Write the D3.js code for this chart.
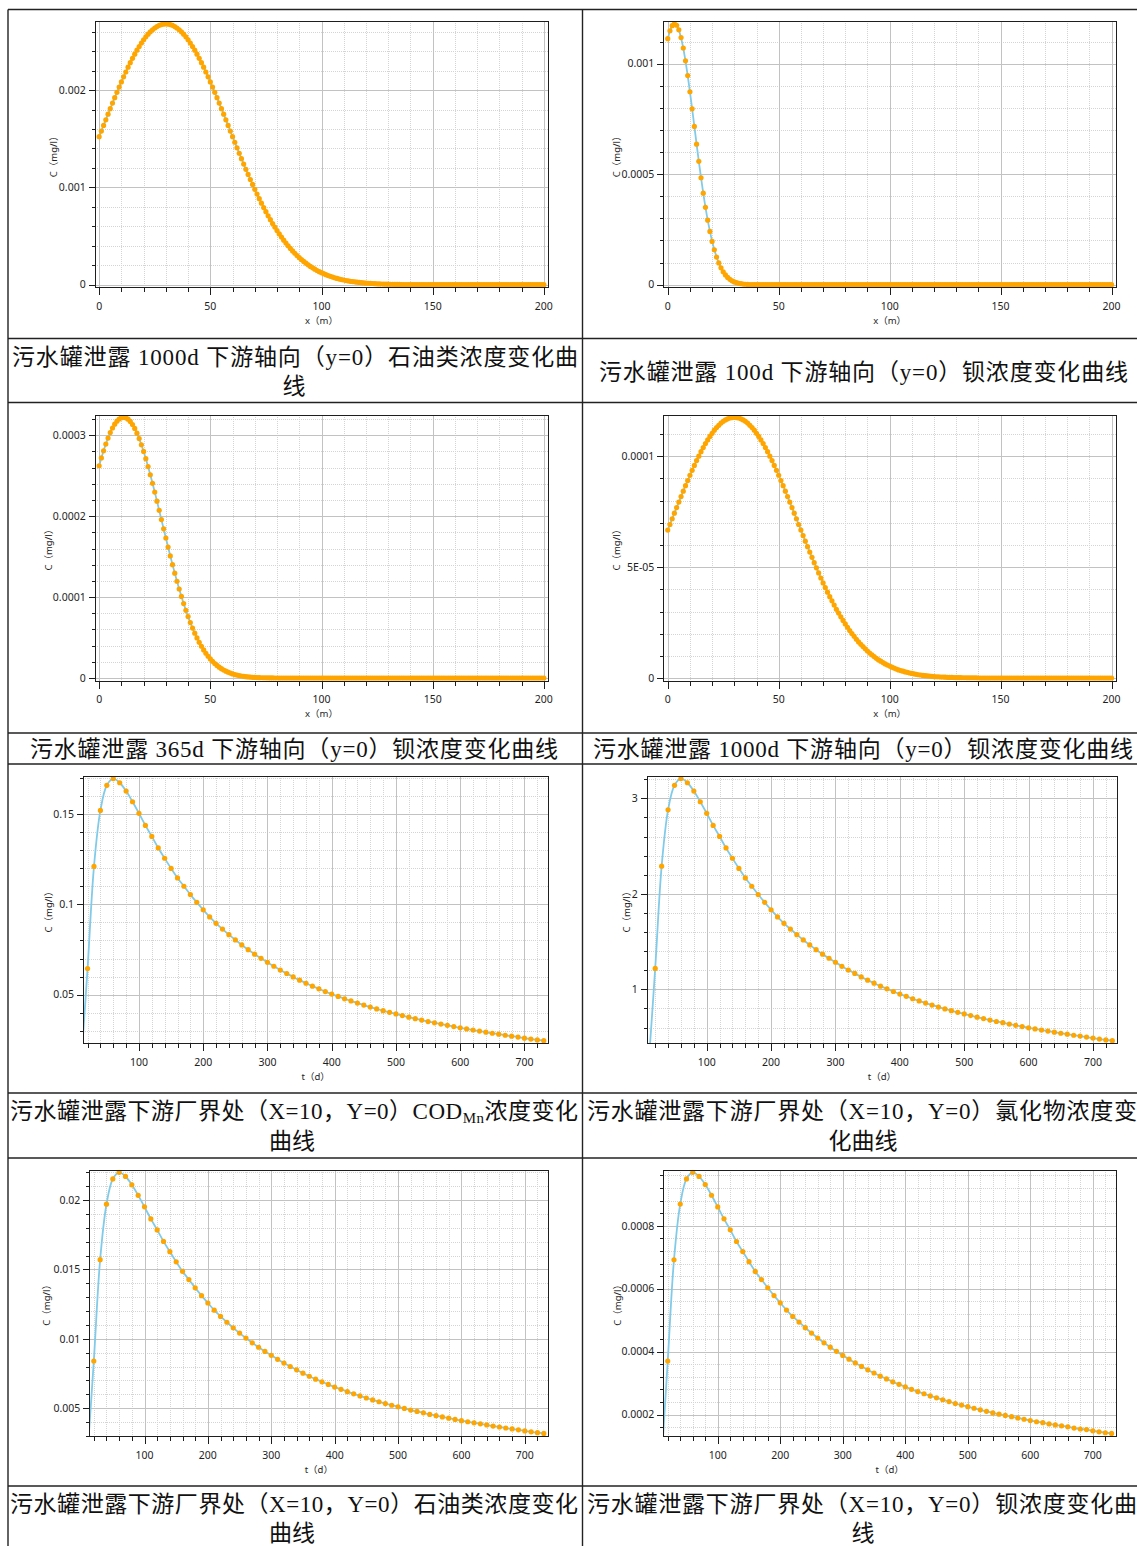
<!DOCTYPE html>
<html>
<head>
<meta charset="utf-8">
<script src="https://cdn.jsdelivr.net/npm/d3@7"></script>
<style>
  html, body { margin: 0; padding: 0; background: #fff; }
  svg { display: block; }
  .tick-label { font-family: "Noto Sans", "DejaVu Sans", sans-serif; font-size: 10.5px; fill: #1e1e1e; }
  .axis-title { font-family: "Noto Sans", "Noto Sans CJK SC", sans-serif; font-size: 9.5px; fill: #1e1e1e; }
  .caption { font-family: "Liberation Serif", "Noto Sans CJK SC", serif; font-size: 23px; fill: #111; }
</style>
</head>
<body>
<svg id="sheet" width="1137" height="1546"></svg>
<script>
// --- distance along flow axis (m), shared by the four profile charts ---
const xMeters = [
  0,1,2,3,4,5,6,7,8,9,10,11,12,13,14,15,16,17,18,19,
  20,21,22,23,24,25,26,27,28,29,30,31,32,33,34,35,36,37,38,39,
  40,41,42,43,44,45,46,47,48,49,50,51,52,53,54,55,56,57,58,59,
  60,61,62,63,64,65,66,67,68,69,70,71,72,73,74,75,76,77,78,79,
  80,81,82,83,84,85,86,87,88,89,90,91,92,93,94,95,96,97,98,99,
  100,101,102,103,104,105,106,107,108,109,110,111,112,113,114,115,116,117,118,119,
  120,121,122,123,124,125,126,127,128,129,130,131,132,133,134,135,136,137,138,139,
  140,141,142,143,144,145,146,147,148,149,150,151,152,153,154,155,156,157,158,159,
  160,161,162,163,164,165,166,167,168,169,170,171,172,173,174,175,176,177,178,179,
  180,181,182,183,184,185,186,187,188,189,190,191,192,193,194,195,196,197,198,199,
  200
];

// 1000d petroleum along x (mg/l)
const petroleum1000d = [
  1.521e-3,1.579e-3,1.637e-3,1.694e-3,1.752e-3,1.809e-3,1.866e-3,1.922e-3,1.977e-3,2.031e-3,
  2.084e-3,2.136e-3,2.186e-3,2.235e-3,2.282e-3,2.326e-3,2.369e-3,2.410e-3,2.448e-3,2.484e-3,
  2.517e-3,2.547e-3,2.574e-3,2.599e-3,2.620e-3,2.638e-3,2.653e-3,2.665e-3,2.673e-3,2.678e-3,
  2.680e-3,2.678e-3,2.673e-3,2.665e-3,2.653e-3,2.638e-3,2.620e-3,2.599e-3,2.574e-3,2.547e-3,
  2.517e-3,2.484e-3,2.448e-3,2.410e-3,2.369e-3,2.326e-3,2.282e-3,2.235e-3,2.186e-3,2.136e-3,
  2.084e-3,2.031e-3,1.977e-3,1.922e-3,1.866e-3,1.809e-3,1.752e-3,1.694e-3,1.637e-3,1.579e-3,
  1.521e-3,1.464e-3,1.407e-3,1.351e-3,1.295e-3,1.240e-3,1.186e-3,1.133e-3,1.081e-3,1.030e-3,
  9.80e-4,9.31e-4,8.84e-4,8.38e-4,7.93e-4,7.50e-4,7.08e-4,6.68e-4,6.29e-4,5.92e-4,
  5.56e-4,5.22e-4,4.89e-4,4.58e-4,4.28e-4,4.00e-4,3.73e-4,3.47e-4,3.23e-4,3.00e-4,
  2.78e-4,2.58e-4,2.39e-4,2.21e-4,2.04e-4,1.88e-4,1.73e-4,1.59e-4,1.46e-4,1.34e-4,
  1.23e-4,1.13e-4,1.03e-4,9.4e-5,8.6e-5,7.8e-5,7.1e-5,6.4e-5,5.8e-5,5.3e-5,
  4.8e-5,4.3e-5,3.9e-5,3.5e-5,3.2e-5,2.9e-5,2.6e-5,2.3e-5,2.1e-5,1.8e-5,
  1.6e-5,1.5e-5,1.3e-5,1.2e-5,1.0e-5,9e-6,8e-6,7e-6,6e-6,5.5e-6,
  5e-6,4e-6,4e-6,3e-6,3e-6,3e-6,2e-6,2e-6,2e-6,2e-6,
  1e-6,0,0,0,0,0,0,0,0,0,
  0,0,0,0,0,0,0,0,0,0,
  0,0,0,0,0,0,0,0,0,0,
  0,0,0,0,0,0,0,0,0,0,
  0,0,0,0,0,0,0,0,0,0,
  0,0,0,0,0,0,0,0,0,0,
  0
];

// 100d barium along x (mg/l)
const barium100d = [
  1.113e-3,1.149e-3,1.172e-3,1.180e-3,1.174e-3,1.153e-3,1.118e-3,1.071e-3,1.013e-3,9.46e-4,
  8.73e-4,7.96e-4,7.16e-4,6.36e-4,5.58e-4,4.84e-4,4.14e-4,3.50e-4,2.92e-4,2.41e-4,
  1.96e-4,1.58e-4,1.25e-4,9.83e-5,7.61e-5,5.82e-5,4.40e-5,3.28e-5,2.42e-5,1.76e-5,
  1.26e-5,9.0e-6,6.3e-6,4.4e-6,3.0e-6,2.0e-6,1.3e-6,9e-7,6e-7,4e-7,
  2e-7,1.5e-7,1e-7,0,0,0,0,0,0,0,
  0,0,0,0,0,0,0,0,0,0,
  0,0,0,0,0,0,0,0,0,0,
  0,0,0,0,0,0,0,0,0,0,
  0,0,0,0,0,0,0,0,0,0,
  0,0,0,0,0,0,0,0,0,0,
  0,0,0,0,0,0,0,0,0,0,
  0,0,0,0,0,0,0,0,0,0,
  0,0,0,0,0,0,0,0,0,0,
  0,0,0,0,0,0,0,0,0,0,
  0,0,0,0,0,0,0,0,0,0,
  0,0,0,0,0,0,0,0,0,0,
  0,0,0,0,0,0,0,0,0,0,
  0,0,0,0,0,0,0,0,0,0,
  0,0,0,0,0,0,0,0,0,0,
  0,0,0,0,0,0,0,0,0,0,
  0
];

// 365d barium along x (mg/l)
const barium365d = [
  2.622e-4,2.718e-4,2.807e-4,2.890e-4,2.964e-4,3.031e-4,3.088e-4,3.135e-4,3.172e-4,3.199e-4,
  3.215e-4,3.220e-4,3.214e-4,3.197e-4,3.169e-4,3.131e-4,3.083e-4,3.024e-4,2.957e-4,2.881e-4,
  2.799e-4,2.709e-4,2.612e-4,2.511e-4,2.406e-4,2.297e-4,2.185e-4,2.071e-4,1.957e-4,1.843e-4,
  1.730e-4,1.618e-4,1.508e-4,1.401e-4,1.296e-4,1.196e-4,1.100e-4,1.008e-4,9.20e-5,8.37e-5,
  7.59e-5,6.86e-5,6.18e-5,5.55e-5,4.96e-5,4.42e-5,3.93e-5,3.48e-5,3.07e-5,2.70e-5,
  2.37e-5,2.07e-5,1.80e-5,1.56e-5,1.35e-5,1.16e-5,1.00e-5,8.5e-6,7.3e-6,6.2e-6,
  5.2e-6,4.4e-6,3.7e-6,3.1e-6,2.6e-6,2.2e-6,1.8e-6,1.5e-6,1.2e-6,1.0e-6,
  8e-7,6.5e-7,5e-7,4e-7,3.5e-7,3e-7,2e-7,2e-7,1.5e-7,1e-7,
  1e-7,5e-8,5e-8,5e-8,5e-8,0,0,0,0,0,
  0,0,0,0,0,0,0,0,0,0,
  0,0,0,0,0,0,0,0,0,0,
  0,0,0,0,0,0,0,0,0,0,
  0,0,0,0,0,0,0,0,0,0,
  0,0,0,0,0,0,0,0,0,0,
  0,0,0,0,0,0,0,0,0,0,
  0,0,0,0,0,0,0,0,0,0,
  0,0,0,0,0,0,0,0,0,0,
  0,0,0,0,0,0,0,0,0,0,
  0,0,0,0,0,0,0,0,0,0,
  0,0,0,0,0,0,0,0,0,0,
  0
];

// 1000d barium along x (mg/l)
const barium1000d = [
  6.67e-5,6.92e-5,7.18e-5,7.43e-5,7.68e-5,7.93e-5,8.18e-5,8.42e-5,8.67e-5,8.90e-5,
  9.14e-5,9.36e-5,9.58e-5,9.80e-5,1.000e-4,1.020e-4,1.039e-4,1.057e-4,1.073e-4,1.089e-4,
  1.103e-4,1.117e-4,1.129e-4,1.139e-4,1.149e-4,1.157e-4,1.163e-4,1.168e-4,1.172e-4,1.174e-4,
  1.175e-4,1.174e-4,1.172e-4,1.168e-4,1.163e-4,1.157e-4,1.149e-4,1.139e-4,1.129e-4,1.117e-4,
  1.103e-4,1.089e-4,1.073e-4,1.057e-4,1.039e-4,1.020e-4,1.000e-4,9.80e-5,9.58e-5,9.36e-5,
  9.14e-5,8.90e-5,8.67e-5,8.42e-5,8.18e-5,7.93e-5,7.68e-5,7.43e-5,7.18e-5,6.92e-5,
  6.67e-5,6.42e-5,6.17e-5,5.92e-5,5.68e-5,5.44e-5,5.20e-5,4.97e-5,4.74e-5,4.51e-5,
  4.29e-5,4.08e-5,3.87e-5,3.67e-5,3.48e-5,3.29e-5,3.10e-5,2.93e-5,2.76e-5,2.60e-5,
  2.44e-5,2.29e-5,2.14e-5,2.01e-5,1.88e-5,1.75e-5,1.63e-5,1.52e-5,1.42e-5,1.32e-5,
  1.22e-5,1.13e-5,1.05e-5,9.7e-6,8.9e-6,8.2e-6,7.6e-6,7.0e-6,6.4e-6,5.9e-6,
  5.4e-6,4.9e-6,4.5e-6,4.1e-6,3.7e-6,3.4e-6,3.1e-6,2.8e-6,2.6e-6,2.3e-6,
  2.1e-6,1.9e-6,1.7e-6,1.5e-6,1.4e-6,1.2e-6,1.1e-6,1.0e-6,9e-7,8e-7,
  7e-7,6e-7,6e-7,5e-7,5e-7,4e-7,3.5e-7,3e-7,3e-7,2.5e-7,
  2e-7,2e-7,2e-7,1.5e-7,1.5e-7,1e-7,1e-7,1e-7,1e-7,1e-7,
  5e-8,0,0,0,0,0,0,0,0,0,
  0,0,0,0,0,0,0,0,0,0,
  0,0,0,0,0,0,0,0,0,0,
  0,0,0,0,0,0,0,0,0,0,
  0,0,0,0,0,0,0,0,0,0,
  0,0,0,0,0,0,0,0,0,0,
  0
];

// --- time (d) at the plant boundary (X=10, Y=0), shared by the four breakthrough charts ---
const tDays = [
  10,20,30,40,50,60,70,80,90,100,110,120,130,140,150,160,170,180,190,200,
  210,220,230,240,250,260,270,280,290,300,310,320,330,340,350,360,370,380,390,400,
  410,420,430,440,450,460,470,480,490,500,510,520,530,540,550,560,570,580,590,600,
  610,620,630,640,650,660,670,680,690,700,710,720,730
];

const codMnT = [
  0.012,0.0644,0.121,0.152,0.1659,0.1696,0.1673,0.1627,0.1568,0.1504,
  0.1437,0.1376,0.1312,0.1255,0.1199,0.1146,0.1100,0.1054,0.1011,0.0970,
  0.0930,0.0895,0.0863,0.0832,0.0803,0.0775,0.0749,0.0724,0.0701,0.0679,
  0.0657,0.0636,0.0617,0.0598,0.0580,0.0563,0.0547,0.0532,0.0517,0.0503,
  0.0490,0.0477,0.0465,0.0453,0.0442,0.0431,0.0421,0.0411,0.0402,0.0393,
  0.0384,0.0375,0.0367,0.0359,0.0351,0.0344,0.0337,0.0330,0.0323,0.0316,
  0.0310,0.0304,0.0298,0.0292,0.0286,0.0281,0.0275,0.0270,0.0265,0.0259,
  0.0254,0.0249,0.0245
];

const chlorideT = [
  0.23,1.22,2.29,2.88,3.137,3.207,3.164,3.077,2.965,2.844,
  2.717,2.602,2.481,2.373,2.267,2.167,2.080,1.993,1.912,1.834,
  1.759,1.692,1.632,1.573,1.518,1.466,1.416,1.369,1.326,1.284,
  1.242,1.203,1.167,1.131,1.097,1.065,1.034,1.006,0.978,0.951,
  0.927,0.902,0.879,0.857,0.836,0.815,0.796,0.777,0.760,0.743,
  0.726,0.709,0.694,0.679,0.664,0.651,0.637,0.624,0.611,0.598,
  0.586,0.575,0.564,0.552,0.541,0.531,0.520,0.511,0.501,0.490,
  0.480,0.471,0.463
];

const petroleumT = [
  0.0016,0.0084,0.0157,0.0197,0.02152,0.0220,0.02170,0.02110,0.02034,0.01951,
  0.01864,0.01785,0.01702,0.01628,0.01555,0.01486,0.01427,0.01367,0.01311,0.01258,
  0.01206,0.01161,0.01119,0.01079,0.01041,0.01005,0.00971,0.00939,0.00909,0.00881,
  0.00852,0.00825,0.00800,0.00776,0.00752,0.00730,0.00709,0.00690,0.00671,0.00652,
  0.00636,0.00619,0.00603,0.00588,0.00573,0.00559,0.00546,0.00533,0.00521,0.00510,
  0.00498,0.00486,0.00476,0.00466,0.00455,0.00446,0.00437,0.00428,0.00419,0.00410,
  0.00402,0.00394,0.00387,0.00379,0.00371,0.00364,0.00357,0.00350,0.00344,0.00336,
  0.00329,0.00323,0.00318
];

const bariumT = [
  0.00005,0.000370,0.000692,0.000869,0.000949,0.000970,0.000957,0.000931,0.000897,0.000860,
  0.000822,0.000787,0.000750,0.000718,0.000686,0.000655,0.000629,0.000603,0.000578,0.000555,
  0.000532,0.000512,0.000494,0.000476,0.000459,0.000443,0.000428,0.000414,0.000401,0.000388,
  0.000376,0.000364,0.000353,0.000342,0.000332,0.000322,0.000313,0.000304,0.000296,0.000288,
  0.000280,0.000273,0.000266,0.000259,0.000253,0.000247,0.000241,0.000235,0.000230,0.000225,
  0.000220,0.000215,0.000210,0.000205,0.000201,0.000197,0.000193,0.000189,0.000185,0.000181,
  0.000177,0.000174,0.000170,0.000167,0.000164,0.000161,0.000157,0.000154,0.000152,0.000148,
  0.000145,0.000142,0.000140
];

// --- tick values and their labels ---
const xTicksMeters = [0, 50, 100, 150, 200];
const xTicksDays = [100, 200, 300, 400, 500, 600, 700];
const yTicks1 = [0, 0.001, 0.002],           yLabels1 = ['0', '0.001', '0.002'];
const yTicks2 = [0, 0.0005, 0.001],          yLabels2 = ['0', '0.0005', '0.001'];
const yTicks3 = [0, 0.0001, 0.0002, 0.0003], yLabels3 = ['0', '0.0001', '0.0002', '0.0003'];
const yTicks4 = [0, 0.00005, 0.0001],        yLabels4 = ['0', '5E-05', '0.0001'];
const yTicks5 = [0.05, 0.1, 0.15],           yLabels5 = ['0.05', '0.1', '0.15'];
const yTicks6 = [1, 2, 3],                   yLabels6 = ['1', '2', '3'];
const yTicks7 = [0.005, 0.01, 0.015, 0.02],  yLabels7 = ['0.005', '0.01', '0.015', '0.02'];
const yTicks8 = [0.0002, 0.0004, 0.0006, 0.0008], yLabels8 = ['0.0002', '0.0004', '0.0006', '0.0008'];

const yTitle = 'C（mg/l）';
const xTitleMeters = 'x（m）';
const xTitleDays = 't（d）';

// --- captions (one entry per text line; sub marks the subscript run) ---
const captions = [
  { parts: [{ t: '污水罐泄露 1000d 下游轴向（y=0）石油类浓度变化曲' }], x0: 12, x1: 578, y: 357 },
  { parts: [{ t: '线' }], cx: 294, y: 386 },
  { parts: [{ t: '污水罐泄露 100d 下游轴向（y=0）钡浓度变化曲线' }], x0: 599, x1: 1128, y: 372 },
  { parts: [{ t: '污水罐泄露 365d 下游轴向（y=0）钡浓度变化曲线' }], x0: 30, x1: 558, y: 749 },
  { parts: [{ t: '污水罐泄露 1000d 下游轴向（y=0）钡浓度变化曲线' }], x0: 593, x1: 1133, y: 749 },
  { parts: [{ t: '污水罐泄露下游厂界处（X=10，Y=0）COD' }, { t: 'Mn', sub: true }, { t: '浓度变化' }], x0: 10, x1: 578, y: 1111 },
  { parts: [{ t: '曲线' }], cx: 292, y: 1141 },
  { parts: [{ t: '污水罐泄露下游厂界处（X=10，Y=0）氯化物浓度变' }], x0: 587, x1: 1137, y: 1111 },
  { parts: [{ t: '化曲线' }], cx: 863, y: 1141 },
  { parts: [{ t: '污水罐泄露下游厂界处（X=10，Y=0）石油类浓度变化' }], x0: 10, x1: 578, y: 1504 },
  { parts: [{ t: '曲线' }], cx: 292, y: 1533 },
  { parts: [{ t: '污水罐泄露下游厂界处（X=10，Y=0）钡浓度变化曲' }], x0: 587, x1: 1137, y: 1504 },
  { parts: [{ t: '线' }], cx: 863, y: 1533 }
];

// table grid lines
const tableRows = [9.5, 338.5, 402.5, 733, 764, 1093, 1158, 1486];
const tableCols = [8, 582.5];

// --- chart layout (plot box = left, top, right, bottom) ---
const charts = [
  { box: [94.7, 21.3, 548.3, 287.3], titleX: 53.3, lineX: xMeters, lineY: petroleum1000d, dotX: xMeters, dotY: petroleum1000d,
    xTicks: xTicksMeters, xMinorStep: 10, yTicks: yTicks1, yLabels: yLabels1, yMinorStep: 0.0002, xTitle: xTitleMeters },
  { box: [663.3, 21.3, 1116, 287.3], titleX: 617, lineX: xMeters, lineY: barium100d, dotX: xMeters, dotY: barium100d,
    xTicks: xTicksMeters, xMinorStep: 10, yTicks: yTicks2, yLabels: yLabels2, yMinorStep: 0.0001, xTitle: xTitleMeters },
  { box: [94.7, 414.7, 548.3, 680.7], titleX: 48.3, lineX: xMeters, lineY: barium365d, dotX: xMeters, dotY: barium365d,
    xTicks: xTicksMeters, xMinorStep: 10, yTicks: yTicks3, yLabels: yLabels3, yMinorStep: 0.00002, xTitle: xTitleMeters },
  { box: [663.3, 414.7, 1116, 680.7], titleX: 616.7, lineX: xMeters, lineY: barium1000d, dotX: xMeters, dotY: barium1000d,
    xTicks: xTicksMeters, xMinorStep: 10, yTicks: yTicks4, yLabels: yLabels4, yMinorStep: 0.00001, xTitle: xTitleMeters },
  { box: [83, 776, 548.3, 1043.3], titleX: 48.3, lineX: tDays, lineY: codMnT, dotX: tDays.slice(1), dotY: codMnT.slice(1), smooth: true,
    xTicks: xTicksDays, xMinorStep: 20, yTicks: yTicks5, yLabels: yLabels5, yMinorStep: 0.01, xTitle: xTitleDays },
  { box: [646.7, 776, 1117, 1043.3], titleX: 626.7, lineX: tDays, lineY: chlorideT, dotX: tDays.slice(1), dotY: chlorideT.slice(1), smooth: true,
    xDomain: [6.8, 737.3],
    xTicks: xTicksDays, xMinorStep: 20, yTicks: yTicks6, yLabels: yLabels6, yMinorStep: 0.2, xTitle: xTitleDays },
  { box: [89.3, 1169.7, 548.3, 1436], titleX: 46.7, lineX: tDays, lineY: petroleumT, dotX: tDays.slice(1), dotY: petroleumT.slice(1), smooth: true,
    xTicks: xTicksDays, xMinorStep: 20, yTicks: yTicks7, yLabels: yLabels7, yMinorStep: 0.001, xTitle: xTitleDays },
  { box: [663.3, 1169.7, 1116, 1436], titleX: 617.3, lineX: tDays, lineY: bariumT, dotX: tDays.slice(1), dotY: bariumT.slice(1), smooth: true,
    xTicks: xTicksDays, xMinorStep: 20, yTicks: yTicks8, yLabels: yLabels8, yMinorStep: 0.00004, xTitle: xTitleDays }
];

const svg = d3.select('#sheet');
svg.append('rect').attr('width', 1137).attr('height', 1546).attr('fill', '#fff');
const defs = svg.append('defs');

// multiples of step that fall inside the domain
function multiplesIn(dom, step) {
  const out = [];
  const k0 = Math.ceil(dom[0] / step - 1e-9), k1 = Math.floor(dom[1] / step + 1e-9);
  for (let k = k0; k <= k1; k++) out.push(+(k * step).toPrecision(12));
  return out;
}
// 1% padding either side, like the original autoscaled axes
function padded(ext) {
  const r = ext[1] - ext[0];
  return [ext[0] - r * 0.01, ext[1] + r * 0.01];
}
const crisp = v => Math.round(v) + 0.5;

function drawChart(c, i) {
  const [L, T, R, B] = c.box;
  const xDom = c.xDomain || padded(d3.extent(c.dotX));
  const yDom = padded(d3.extent(c.dotY));
  const x = d3.scaleLinear().domain(xDom).range([L, R]);
  const y = d3.scaleLinear().domain(yDom).range([B, T]);
  const g = svg.append('g').attr('class', 'chart');

  const clipId = 'plot-clip-' + i;
  defs.append('clipPath').attr('id', clipId).append('rect')
    .attr('x', L).attr('y', T).attr('width', R - L).attr('height', B - T);

  const near = (v, list, step) => list.some(m => Math.abs(m - v) < step * 1e-3);
  const xMinor = multiplesIn(xDom, c.xMinorStep).filter(v => !near(v, c.xTicks, c.xMinorStep));
  const yMinor = multiplesIn(yDom, c.yMinorStep).filter(v => !near(v, c.yTicks, c.yMinorStep));

  // grid: minor dotted, major solid
  const grid = g.append('g').attr('shape-rendering', 'crispEdges');
  grid.selectAll('.gx-minor').data(xMinor).join('line').attr('class', 'gx-minor')
    .attr('x1', d => crisp(x(d))).attr('x2', d => crisp(x(d))).attr('y1', T).attr('y2', B)
    .attr('stroke', '#d4d4d4').attr('stroke-dasharray', '1,1');
  grid.selectAll('.gy-minor').data(yMinor).join('line').attr('class', 'gy-minor')
    .attr('y1', d => crisp(y(d))).attr('y2', d => crisp(y(d))).attr('x1', L).attr('x2', R)
    .attr('stroke', '#d4d4d4').attr('stroke-dasharray', '1,1');
  grid.selectAll('.gx-major').data(c.xTicks).join('line').attr('class', 'gx-major')
    .attr('x1', d => crisp(x(d))).attr('x2', d => crisp(x(d))).attr('y1', T).attr('y2', B)
    .attr('stroke', '#c2c2c2');
  grid.selectAll('.gy-major').data(c.yTicks).join('line').attr('class', 'gy-major')
    .attr('y1', d => crisp(y(d))).attr('y2', d => crisp(y(d))).attr('x1', L).attr('x2', R)
    .attr('stroke', '#c2c2c2');

  // series: connecting line under the markers
  const series = g.append('g').attr('clip-path', `url(#${clipId})`);
  const linePts = c.lineX.map((v, k) => [v, c.lineY[k]]);
  const dotPts = c.dotX.map((v, k) => [v, c.dotY[k]]);
  series.append('path')
    .attr('d', d3.line().x(d => x(d[0])).y(d => y(d[1]))
      .curve(c.smooth ? d3.curveCatmullRom : d3.curveLinear)(linePts))
    .attr('fill', 'none').attr('stroke', '#82cbe8').attr('stroke-width', 1.8);
  series.selectAll('circle').data(dotPts).join('circle')
    .attr('cx', d => x(d[0])).attr('cy', d => y(d[1])).attr('r', 2.6)
    .attr('fill', '#ffa500');

  // frame
  g.append('rect').attr('x', crisp(L)).attr('y', crisp(T))
    .attr('width', Math.round(R) - Math.round(L)).attr('height', Math.round(B) - Math.round(T))
    .attr('fill', 'none').attr('stroke', '#1e1e1e').attr('stroke-width', 1)
    .attr('shape-rendering', 'crispEdges');

  // ticks outside the frame
  const ticks = g.append('g').attr('stroke', '#1e1e1e').attr('shape-rendering', 'crispEdges');
  const bx = Math.round(B) + 0.5, lx = Math.round(L) + 0.5;
  ticks.selectAll('.tx').data(c.xTicks.map(v => [v, 7]).concat(xMinor.map(v => [v, 4]))).join('line')
    .attr('x1', d => crisp(x(d[0]))).attr('x2', d => crisp(x(d[0]))).attr('y1', bx).attr('y2', d => bx + d[1]);
  ticks.selectAll('.ty').data(c.yTicks.map(v => [v, 7]).concat(yMinor.map(v => [v, 4]))).join('line')
    .attr('y1', d => crisp(y(d[0]))).attr('y2', d => crisp(y(d[0]))).attr('x1', lx).attr('x2', d => lx - d[1]);

  // tick labels
  g.selectAll('.xl').data(c.xTicks).join('text').attr('class', 'tick-label')
    .attr('x', d => x(d)).attr('y', B + 22.5).attr('text-anchor', 'middle').text(d => d);
  g.selectAll('.yl').data(c.yTicks).join('text').attr('class', 'tick-label')
    .attr('x', L - 9).attr('y', d => y(d)).attr('dy', '0.36em').attr('text-anchor', 'end')
    .text((d, k) => c.yLabels[k]);

  // axis titles
  g.append('text').attr('class', 'axis-title')
    .attr('x', (L + R) / 2).attr('y', B + 36.5).attr('text-anchor', 'middle').text(c.xTitle);
  g.append('text').attr('class', 'axis-title')
    .attr('transform', `translate(${c.titleX},${(T + B) / 2}) rotate(-90)`)
    .attr('dy', '0.35em').attr('text-anchor', 'middle').text(yTitle);
}

charts.forEach(drawChart);

// table
const table = svg.append('g').attr('stroke', '#222').attr('stroke-width', 1.4);
table.selectAll('.row').data(tableRows).join('line')
  .attr('x1', tableCols[0]).attr('x2', 1137).attr('y1', d => d).attr('y2', d => d);
table.selectAll('.col').data(tableCols).join('line')
  .attr('x1', d => d).attr('x2', d => d).attr('y1', tableRows[0]).attr('y2', 1546);

// captions
captions.forEach(cap => {
  const t = svg.append('text').attr('class', 'caption').attr('y', cap.y + 8);
  if (cap.x1 != null) {
    t.attr('x', cap.x0).attr('text-anchor', 'start')
      .attr('textLength', cap.x1 - cap.x0).attr('lengthAdjust', 'spacing');
  } else {
    t.attr('x', cap.cx).attr('text-anchor', 'middle');
  }
  let shifted = false;
  cap.parts.forEach(p => {
    const s = t.append('tspan').text(p.t);
    if (p.sub) { s.attr('font-size', '15px').attr('dy', 4); shifted = true; }
    else if (shifted) { s.attr('dy', -4); shifted = false; }
  });
});
</script>
</body>
</html>
